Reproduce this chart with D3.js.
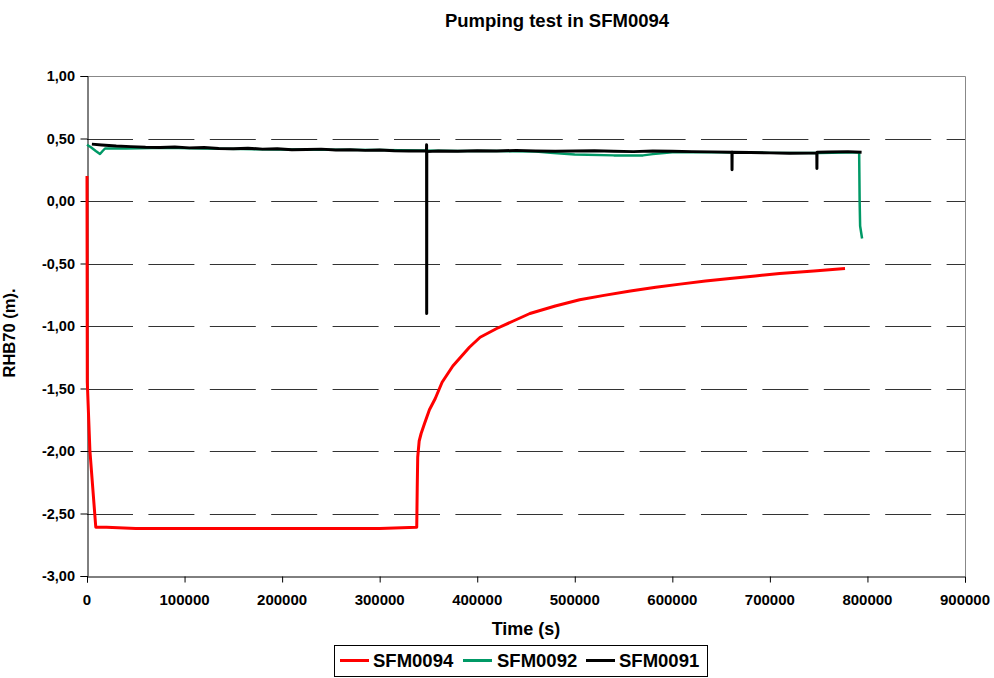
<!DOCTYPE html>
<html><head><meta charset="utf-8">
<script src="https://cdn.jsdelivr.net/npm/d3@7"></script>
<style>
body{margin:0;background:#fff;}
text{font-family:"Liberation Sans",Arial,sans-serif;font-weight:bold;fill:#000;}
</style></head>
<body><svg id="c" width="994" height="678"></svg>
<script>
// ---- data ----
const title = "Pumping test in SFM0094";
const xTitle = "Time (s)";
const yTitle = "RHB70 (m).";
const xTicks = [0,100000,200000,300000,400000,500000,600000,700000,800000,900000];
const yTicks = [1.0,0.5,0.0,-0.5,-1.0,-1.5,-2.0,-2.5,-3.0];
const seriesNames = ["SFM0094","SFM0092","SFM0091"];

const t94 = [0,300,3000,9000,20000,50000,100000,200000,300000,338000,338500,339000,340500,342500,346000,351000,357000,364000,375000,392000,403000,420000,437000,454000,480000,505000,530000,557000,583000,608000,634000,659000,685000,710000,745000,777000];
const v94 = [0.20,-1.45,-2.00,-2.61,-2.61,-2.62,-2.62,-2.62,-2.62,-2.61,-2.30,-2.05,-1.92,-1.86,-1.78,-1.67,-1.58,-1.45,-1.32,-1.17,-1.09,-1.02,-0.96,-0.90,-0.84,-0.79,-0.755,-0.72,-0.69,-0.665,-0.64,-0.62,-0.60,-0.58,-0.56,-0.54];

const t92 = [0,4000,9000,13300,16000,18500,40000,80000,120000,160000,200000,250000,300000,340000,380000,420000,460000,475000,500000,540000,570000,580000,600000,650000,700000,750000,791500,792000,792500,794500];
const v92 = [0.45,0.43,0.40,0.376,0.40,0.42,0.42,0.425,0.42,0.415,0.412,0.41,0.408,0.405,0.40,0.40,0.395,0.385,0.372,0.365,0.365,0.375,0.39,0.39,0.385,0.385,0.39,0.00,-0.20,-0.30];

const t91 = [5000,15000,30000,45000,60000,75000,90000,105000,120000,135000,150000,165000,180000,195000,210000,225000,240000,255000,270000,285000,300000,315000,330000,348000,348100,348200,348300,360000,380000,400000,420000,440000,460000,480000,500000,520000,540000,560000,580000,600000,620000,640000,661000,661100,661200,661300,680000,700000,720000,740000,748000,748100,748200,748300,760000,780000,794000];
const v91 = [0.455,0.448,0.44,0.435,0.43,0.428,0.432,0.425,0.428,0.42,0.418,0.422,0.415,0.418,0.41,0.412,0.415,0.408,0.41,0.405,0.408,0.402,0.40,0.40,0.45,-0.90,0.395,0.40,0.398,0.402,0.40,0.405,0.40,0.398,0.40,0.402,0.398,0.395,0.40,0.398,0.395,0.393,0.39,0.39,0.25,0.39,0.388,0.385,0.382,0.383,0.385,0.385,0.26,0.39,0.392,0.395,0.39];

const colors = ["#ff0000","#009966","#000000"];

// ---- layout ----
const svg = d3.select("#c");
const L=87, T=76, W=878, H=500;
const x = d3.scaleLinear().domain([0,900000]).range([L,L+W]);
const y = d3.scaleLinear().domain([-3,1]).range([T+H,T]);

// grid
svg.append("g").selectAll("line").data(yTicks.filter(v=>v<1 && v>-3)).join("line")
  .attr("x1",L).attr("x2",L+W).attr("y1",d=>Math.round(y(d))+0.5).attr("y2",d=>Math.round(y(d))+0.5)
  .attr("stroke","#333").attr("stroke-width",1).attr("stroke-dasharray","46,15.4");
// top & right border
svg.append("path").attr("d",`M${L},${T+0.5}H${L+W+0.5}V${T+H}`).attr("fill","none").attr("stroke","#888");

// axes
const yAx = d3.axisLeft(y).tickValues(yTicks).tickSize(7).tickFormat("");
svg.append("g").attr("transform",`translate(${L+0.5},0)`).call(yAx)
  .call(g=>g.selectAll("path,line").attr("stroke","#000"));
const xAx = d3.axisBottom(x).tickValues(xTicks).tickSize(6).tickFormat("");
svg.append("g").attr("transform",`translate(0,${T+H+0.5})`).call(xAx)
  .call(g=>g.selectAll("path,line").attr("stroke","#000"));

const fmtY = d=>d3.format(".2f")(d).replace(".",",").replace("−","-");
svg.append("g").selectAll("text").data(yTicks).join("text")
  .attr("x",75).attr("y",d=>y(d)+5).attr("text-anchor","end")
  .style("font-size","14.5px").text(fmtY);
svg.append("g").selectAll("text").data(xTicks).join("text")
  .attr("x",d=>x(d)).attr("y",605).attr("text-anchor","middle")
  .style("font-size","15px").text(d=>String(d));

// titles
svg.append("text").attr("x",557).attr("y",27).attr("text-anchor","middle").style("font-size","18.5px").text(title);
svg.append("text").attr("x",526).attr("y",635).attr("text-anchor","middle").style("font-size","18px").text(xTitle);
svg.append("text").attr("transform","translate(15,333) rotate(-90)").attr("text-anchor","middle").style("font-size","16.5px").text(yTitle);

// lines
const line = d3.line().x(d=>x(d[0])).y(d=>y(d[1]));
const data = [d3.zip(t94,v94), d3.zip(t92,v92), d3.zip(t91,v91)];
const widths = [3,2.5,3];
[0,1,2].forEach(i=>{
  svg.append("path").datum(data[i]).attr("d",line).attr("fill","none")
    .attr("stroke",colors[i]).attr("stroke-width",widths[i]).attr("stroke-linejoin","round");
});

// legend
const lg = svg.append("g");
lg.append("rect").attr("x",334.5).attr("y",645.5).attr("width",373).attr("height",31).attr("fill","#fff").attr("stroke","#000");
const lx=[340,463,586], tx=[373,497,619];
seriesNames.forEach((n,i)=>{
  lg.append("line").attr("x1",lx[i]).attr("x2",lx[i]+29).attr("y1",660.5).attr("y2",660.5).attr("stroke",colors[i]).attr("stroke-width",3);
  lg.append("text").attr("x",tx[i]).attr("y",667).style("font-size","18.5px").text(n);
});
</script></body></html>
